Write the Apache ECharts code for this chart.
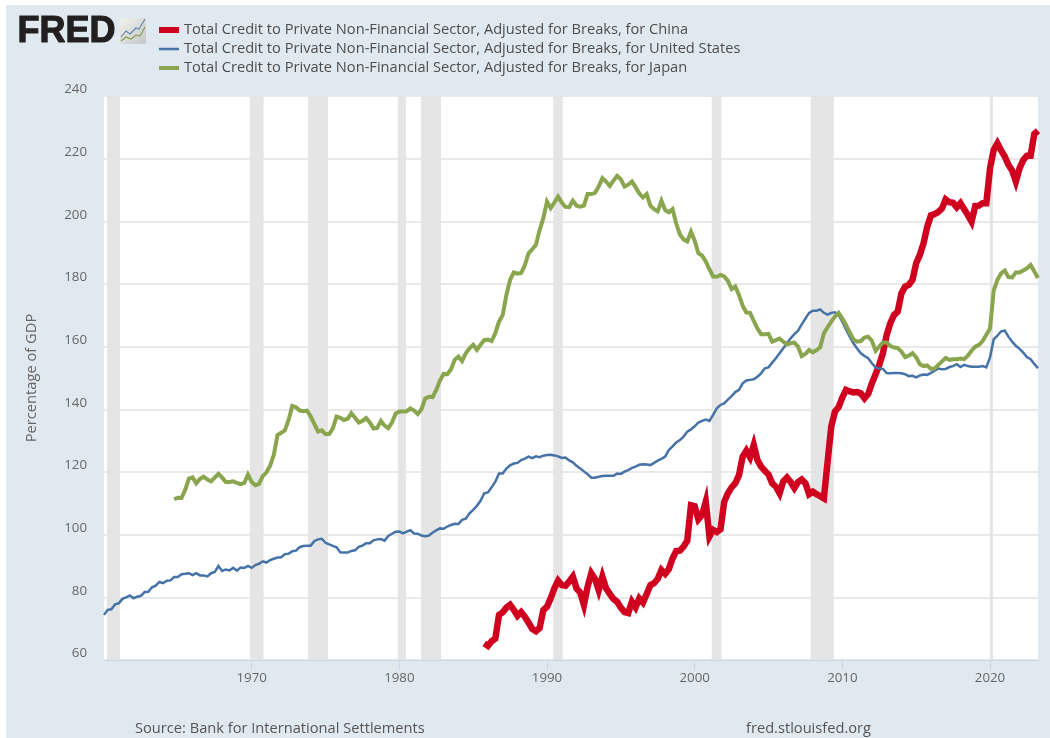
<!DOCTYPE html>
<html>
<head>
<meta charset="utf-8">
<style>
html,body{margin:0;padding:0;background:#fff;width:1050px;height:738px;overflow:hidden}
#main{position:absolute;left:6px;top:5px;width:1044px;height:733px;background:#e1e9f0}
</style>
<script src="https://cdn.jsdelivr.net/npm/echarts@6/dist/echarts.min.js"></script>
</head>
<body>
<div id="main"></div>
<script>
// Quarterly values, percent of GDP
const usStart = 1960;
const usValues = [
74.4,76,76.2,77.8, 78.1,79.5,80,80.6, 79.7,80.2,80.5,81.7, 81.8,83.2,83.7,84.9, 84.5,85.3,85.4,86.5,
86.5,87.4,87.5,87.7, 87.1,87.7,87,87, 86.7,87.7,88.1,90, 88.4,88.9,88.6,89.4, 88.5,89.5,89.4,90,
89.4,90.3,90.7,91.5, 91.1,91.9,92.3,92.7, 92.8,93.8,93.9,94.7, 94.9,96,96.4,96.5, 96.5,98,98.5,98.7,
97.4,96.9,96.4,96, 94.4,94.3,94.3,94.8, 95,96.1,96.5,97.3, 97.3,98.2,98.5,98.6, 98.1,99.6,100.3,100.9,
101,100.4,101,101.4, 100.4,100.3,99.7,99.5, 99.7,100.6,101.4,102, 101.9,102.6,103.1,103.5, 103.4,104.7,105.1,106.8,
107.9,109.2,110.8,113.2, 113.5,115.1,116.9,119.5, 119.5,121.1,122.1,122.7, 122.9,123.8,124.3,124.9, 124.4,125,124.7,125.2,
125.4,125.5,125.3,125, 124.5,124.6,123.7,123.1, 122,121.1,120.2,119.3, 118.2,118.2,118.5,118.7, 118.8,118.8,118.8,119.5,
119.4,120.1,120.6,121.3, 121.7,122.3,122.5,122.4, 122.2,122.9,123.6,124.2, 124.9,127,128.2,129.4, 130.2,131.3,132.9,133.6,
134.6,135.8,136.3,136.7, 136.3,138.2,140.3,141.4, 141.9,143.1,144.2,145.5, 146.2,148.3,149.2,149.4, 149.6,150.4,151.5,153.1,
153.4,154.9,156.3,157.9, 159.5,161.1,162.7,164, 165.1,167.1,169,170.8, 171.5,171.5,171.9,170.8, 170.2,170.8,171,170.1,
168,165.5,163.2,161.1, 159.4,157.9,157,156.3, 154.7,153.4,153,152.9, 151.6,151.5,151.6,151.6, 151.5,151.2,150.6,150.7,
150.2,150.8,151.1,151, 151.6,152.3,153,152.8, 152.9,153.5,153.8,154.4, 153.5,154.2,153.8,153.6, 153.6,153.6,153.8,153.4,
156.6,162.3,163.5,164.9, 165.1,163.2,161.6,160.3, 159.3,158.1,156.7,156, 154.5,153.1
];
const japanStart = 1964.75;
const japanValues = [
111.3,
111.8,111.7,114.3,117.9, 118.3,116.4,117.8,118.5, 117.6,117,118.2,119.4, 118.2,116.8,116.8,117, 116.5,116.1,116.5,119.2,
116.8,115.8,116.2,118.7, 119.9,122,125.5,131.8, 132.5,133.3,136.6,141.1, 140.7,139.6,139.4,139.6, 137.7,135.3,132.9,133.3,
132.1,132.1,133.9,137.7, 137.3,136.6,137,138.8, 137.3,135.8,136.3,137.2, 135.8,133.9,134.1,136.3, 134.8,134,135.8,138.6,
139.3,139.3,139.4,140.3, 139.6,138.5,140,143.5, 144,143.9,146.2,149.2, 151.3,151.2,152.8,155.8, 156.8,155.4,157.9,159.5,
160.6,159,160.6,162.1, 162.3,161.8,164.3,168, 170.1,176.5,181.3,183.7, 183.3,183.5,186,189.8, 191.1,192.5,197.2,201,
206.3,204.2,206,207.9, 206,204.6,204.5,206.6, 205,204.7,205,208.7, 208.7,209.1,211.1,213.8, 212.7,211.3,213,214.5,
213.4,211.1,211.7,212.7, 210.9,208.9,207.6,208.7, 205,203.9,203.2,206.6, 203.6,202.9,203.9,199.3, 195.8,194.2,193.6,196.7,
193.8,189.8,189.1,187.2, 184.7,182.4,182.3,182.9, 182.4,181,178.4,179.2, 176.5,173.1,170.9,170.8, 168.2,165.8,164,164,
164.1,161.6,162.1,162.6, 161.6,160.7,161.1,161.3, 160,157,157.7,158.9, 158.2,158.9,159.8,164.3, 166.2,168,169.6,170.8,
169,166.9,164.5,162.3, 161.6,161.8,162.9,163.2, 161.9,158.7,160,161.3, 161.3,160.2,159.7,159.6, 158.4,156.7,157.1,157.9,
156.6,154.4,153.8,154, 152.9,153,154.2,155.3, 156.4,155.8,156,156, 156.2,156,157.1,158.7, 160,160.6,161.8,163.8,
165.8,177.9,181.3,183.4, 184.3,182.2,182.1,183.7, 183.7,184.3,185,186.1, 184,181.9
];
const chinaStart = 1985.75;
const chinaValues = [
65.3,
64.5,66,66.8,74.4, 75.2,76.7,77.6,76, 74.1,75.3,73.8,71.9, 69.9,69.2,70.2,75.9,
77,79.7,82.9,85.3, 83.9,83.7,85,86.6, 82.8,81.5,77.6,83.4, 87.7,85.9,82.3,86.6, 82.9,81.1,79.5,78.6,
76.7,75.3,75,78.6, 76.8,79.6,78.3,81.1, 83.9,84.5,85.9,88.7, 87.5,89,92.4,94.8, 94.9,96.2,98.1,109.4,
109.1,104.9,106.3,110.5, 99.4,101.5,100.8,101.7, 110.5,113.2,115.1,116.4, 119,124.9,126.8,124.7, 128.6,123.8,121.7,120.4,
119.2,116.4,115.3,113.2, 117,118.2,116.8,114.9, 116.8,117.6,116.4,112.9, 113.7,112.9,112.3,111.6, 123.2,134.5,139.3,140.7,
143.8,146.2,145.7,145.4, 145.5,145.1,143.5,144.9, 148.3,151.2,154.2,157.9, 163.7,167.5,170.1,171.2, 177,179.2,179.7,181.3,
186.6,189.3,193,198.3, 201.9,202.3,203,204.1, 207,206.1,205.9,204.5, 205.8,203.9,202,199.9, 204.9,205,205.8,205.8,
216.9,222.8,224.9,222.6, 220.7,218,216.2,212.7, 216.9,219.6,220.9,220.9, 227.9,228.9
];
// Recession bands as decimal years
const recessions = [[1960.2,1961.08],[1969.88,1970.81],[1973.81,1975.17],[1979.9,1980.45],[1981.46,1982.82],
  [1990.42,1991.07],[2001.15,2001.81],[2007.85,2009.42],[2019.99,2020.2]];
const xTicks = [1970,1980,1990,2000,2010,2020];
const names = [
 'Total Credit to Private Non-Financial Sector, Adjusted for Breaks, for China',
 'Total Credit to Private Non-Financial Sector, Adjusted for Breaks, for United States',
 'Total Credit to Private Non-Financial Sector, Adjusted for Breaks, for Japan'
];
const legendIcons = ['path://M0 0H20V6H0Z','path://M0 0H20V2.5H0Z','path://M0 0H20V4H0Z'];

const pairs = (start, vals) => vals.map((v, i) => [start + i * 0.25, v]);
const font = '"Open Sans", "Noto Sans", sans-serif';
const lineSeries = (name, start, vals, color, width) => ({
  type:'line', name, data:pairs(start, vals), symbol:'none', smooth:false, clip:true, z:3,
  lineStyle:{color, width, join:'miter', miterLimit:6, cap:'butt'}, itemStyle:{color}
});

const chart = echarts.init(document.getElementById('main'), null, {renderer:'canvas'});
chart.setOption({
  animation:false,
  backgroundColor:'#e1e9f0',
  grid:{left:98, right:12, top:91, bottom:78, show:true, backgroundColor:'#fff', borderWidth:0},
  legend:{
    data:names.map((n,i)=>({name:n, icon:legendIcons[i]})), orient:'vertical', left:153, top:17.5, itemWidth:20, itemHeight:14, itemGap:4, padding:0,
    selectedMode:false, symbolKeepAspect:true,
    textStyle:{fontFamily:font, fontSize:14.65, color:'#4d4d4d'}
  },
  xAxis:{
    type:'value', min:1960, max:2023.25, interval:10,
    splitLine:{show:false},
    axisLine:{show:true, lineStyle:{color:'#ccd6eb', width:1}},
    axisTick:{show:true, length:10, lineStyle:{color:'#ccd6eb'}, customValues:xTicks},
    axisLabel:{color:'#666', fontFamily:font, fontSize:13.3, margin:12, customValues:xTicks, formatter:v=>String(v)}
  },
  yAxis:{
    type:'value', min:60, max:240, interval:20,
    name:'Percentage of GDP', nameLocation:'middle', nameGap:65, nameRotate:90,
    nameTextStyle:{color:'#666', fontFamily:font, fontSize:14.7},
    axisLine:{show:false}, axisTick:{show:false},
    splitLine:{show:true, lineStyle:{color:'#e9e9e9', width:2}},
    axisLabel:{color:'#666', fontFamily:font, fontSize:13.3, margin:17, verticalAlign:'bottom'}
  },
  series:[
    {type:'line', name:'Recessions', data:[], silent:true, z:1,
     markArea:{silent:true, z:1, itemStyle:{color:'#e5e5e5', opacity:1},
       data:recessions.map(r=>[{xAxis:r[0]},{xAxis:r[1]}])}},
    lineSeries(names[0], chinaStart, chinaValues, '#d0011f', 6.5),
    lineSeries(names[1], usStart, usValues, '#4572a7', 2.5),
    lineSeries(names[2], japanStart, japanValues, '#89a54e', 4)
  ],
  graphic:[
    {type:'text', left:129, top:716, z:10, style:{text:'Source: Bank for International Settlements', fill:'#555', fontFamily:font, fontSize:14.65}},
    {type:'text', left:740, top:716, z:10, style:{text:'fred.stlouisfed.org', fill:'#555', fontFamily:font, fontSize:14.65}},
    {type:'text', left:11, top:8, z:10, style:{text:'FRED', fill:'#231f20', stroke:'#231f20', lineWidth:1.2, fontFamily:'"Liberation Sans", Arial, sans-serif', fontWeight:'bold', fontSize:36}},
    {type:'rect', z:10, shape:{x:114, y:13, width:26, height:26, r:2},
      style:{fill:{type:'linear',x:0,y:0,x2:1,y2:1,colorStops:[{offset:0,color:'#f2f2f0'},{offset:1,color:'#c4c6c6'}]}}},
    {type:'polyline', z:11, shape:{points:[[115,32],[120,26],[124,29],[130,23],[133,24],[139,14]]},
      style:{fill:null, stroke:'#5f85ad', lineWidth:1.1}},
    {type:'polyline', z:11, shape:{points:[[115,36],[120,32],[125,34],[130,30],[134,31],[139,22]]},
      style:{fill:null, stroke:'#7f9f45', lineWidth:1.1}}
  ]
});
</script>
</body>
</html>
